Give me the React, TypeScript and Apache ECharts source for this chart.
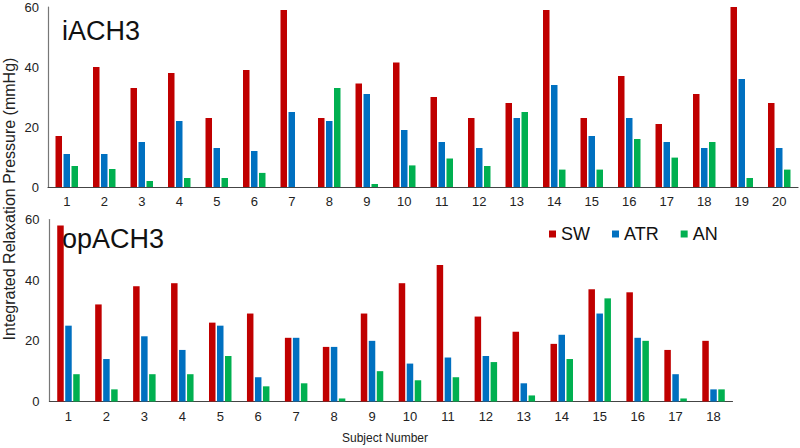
import React, { useEffect, useRef } from "react";
import * as echarts from "echarts";

const topCategories = ["1","2","3","4","5","6","7","8","9","10","11","12","13","14","15","16","17","18","19","20"];
const topSW = [17, 40, 33, 38, 23, 39, 59, 23, 34.5, 41.5, 30, 23, 28, 59, 23, 37, 21, 31, 60, 28];
const topATR = [11, 11, 15, 22, 13, 12, 25, 22, 31, 19, 15, 13, 23, 34, 17, 23, 15, 13, 36, 13];
const topAN = [7, 6, 2, 3, 3, 4.7, 0, 33, 1, 7.2, 9.5, 7, 25, 5.8, 5.8, 16, 9.8, 15, 3, 5.8];

const bottomCategories = ["1","2","3","4","5","6","7","8","9","10","11","12","13","14","15","16","17","18"];
const bottomSW = [58, 32, 38, 39, 26, 29, 21, 18, 29, 39, 45, 28, 23, 19, 37, 36, 17, 20];
const bottomATR = [25, 14, 21.5, 17, 25, 8, 21, 18, 20, 12.5, 14.5, 15, 6, 22, 29, 21, 9, 4];
const bottomAN = [9, 4, 9, 9, 15, 5, 6, 1, 10, 7, 8, 13, 2, 14, 34, 20, 1, 4];

const seriesNames = ["SW", "ATR", "AN"];
const panelTitles = ["iACH3", "opACH3"];
const yTitle = "Integrated Relaxation Pressure (mmHg)";
const xTitle = "Subject Number";

const COLORS = ["#C00000", "#0070C0", "#00B050"];
const FONT = "'Liberation Sans', Arial, Helvetica, sans-serif";

export default function App() {
  const ref = useRef<HTMLDivElement>(null);
  useEffect(() => {
    if (!ref.current) return;
    const chart = echarts.init(ref.current, undefined, { renderer: "svg" });
    const xAxisBase = (cats: string[], gi: number) => ({
      type: "category",
      gridIndex: gi,
      data: cats,
      axisLine: { lineStyle: { color: "#444", width: 1.2 } },
      axisTick: { show: false },
      axisLabel: { color: "#222", fontSize: 13, fontFamily: FONT, margin: 8 },
    });
    const yAxisBase = (gi: number, margin: number) => ({
      type: "value",
      gridIndex: gi,
      min: 0,
      max: 60,
      interval: 20,
      axisLine: { show: true, lineStyle: { color: "#777", width: 1.2 } },
      axisTick: { show: false },
      splitLine: { show: false },
      axisLabel: { color: "#222", fontSize: 13, fontFamily: FONT, margin },
    });
    const mk = (name: string, data: number[], idx: number, color: string) => ({
      type: "bar",
      name,
      xAxisIndex: idx,
      yAxisIndex: idx,
      data,
      barWidth: 6.5,
      barGap: "23%",
      itemStyle: { color },
    });
    const topData = [topSW, topATR, topAN];
    const bottomData = [bottomSW, bottomATR, bottomAN];
    const series: any[] = [];
    seriesNames.forEach((n, i) => series.push(mk(n, topData[i], 0, COLORS[i])));
    seriesNames.forEach((n, i) => series.push(mk(n, bottomData[i], 1, COLORS[i])));

    chart.setOption({
      animation: false,
      backgroundColor: "#ffffff",
      grid: [
        { left: 48, top: 7, width: 750, height: 180 },
        { left: 49.5, top: 219.5, width: 683, height: 182 },
      ],
      xAxis: [xAxisBase(topCategories, 0), xAxisBase(bottomCategories, 1)],
      yAxis: [yAxisBase(0, 9), yAxisBase(1, 10)],
      legend: {
        data: seriesNames,
        icon: "rect",
        itemWidth: 7,
        itemHeight: 7,
        itemGap: 22,
        padding: 0,
        left: 549,
        top: 225,
        textStyle: { fontSize: 18, color: "#111", fontFamily: FONT },
      },
      graphic: [
        {
          type: "text",
          x: 62,
          y: 31,
          style: { text: panelTitles[0], fontSize: 27, fontFamily: FONT, fill: "#111", align: "left", verticalAlign: "middle" },
          z: 10,
        },
        {
          type: "text",
          x: 62,
          y: 239,
          style: { text: panelTitles[1], fontSize: 27, fontFamily: FONT, fill: "#111", align: "left", verticalAlign: "middle" },
          z: 10,
        },
        {
          type: "text",
          x: 9,
          y: 199,
          rotation: Math.PI / 2,
          style: { text: yTitle, fontSize: 16, fontFamily: FONT, fill: "#222", align: "center", verticalAlign: "middle" },
        },
        {
          type: "text",
          x: 385,
          y: 438,
          style: { text: xTitle, fontSize: 12, fontFamily: FONT, fill: "#222", align: "center", verticalAlign: "middle" },
        },
      ],
      series,
    });
    return () => chart.dispose();
  }, []);
  return (
    <div
      ref={ref}
      style={{ position: "fixed", left: 0, top: 0, width: 800, height: 448, background: "#fff" }}
    />
  );
}
